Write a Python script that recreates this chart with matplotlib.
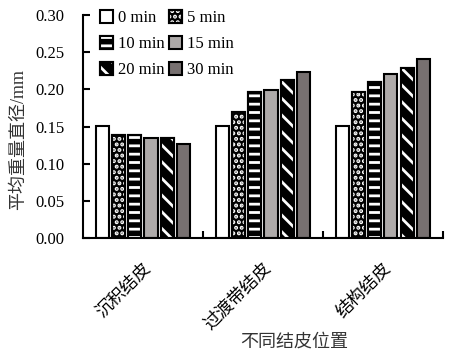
import numpy as np
import matplotlib
matplotlib.use("Agg")
import matplotlib.pyplot as plt
from matplotlib.patches import Patch
from matplotlib.legend_handler import HandlerTuple
from matplotlib.transforms import ScaledTranslation

plt.rcParams["font.family"] = ["Liberation Serif", "Noto Sans CJK SC"]
plt.rcParams["hatch.linewidth"] = 2.0

positions = ["沉积结皮", "过渡带结皮", "结构结皮"]
series = ["0 min", "5 min", "10 min", "15 min", "20 min", "30 min"]
values = [
    [0.151, 0.151, 0.151],
    [0.139, 0.169, 0.196],
    [0.139, 0.196, 0.210],
    [0.134, 0.199, 0.220],
    [0.134, 0.212, 0.229],
    [0.127, 0.223, 0.241],
]

# fill colour, white hatch on top (None = plain)
styles = [
    ("white", None),
    ("black", "..."),
    ("black", "--"),
    ("#aeaaa9", None),
    ("black", "\\\\"),
    ("#777070", None),
]

fig = plt.figure(figsize=(4.5, 3.57), dpi=100)
ax = fig.add_axes([0.184, 0.333, 0.80, 0.625])

x = np.arange(len(positions))
width = 0.11
step = 0.135
handles = []
for i, (name, vals) in enumerate(zip(series, values)):
    fc, hatch = styles[i]
    xs = x + (i - 2.5) * step
    ax.bar(xs, vals, width=width, color=fc, edgecolor="black", linewidth=1.5, zorder=2)
    base = Patch(facecolor=fc, edgecolor="black", linewidth=1.5)
    if hatch:
        ax.bar(xs, vals, width=width, fill=False, edgecolor="white", hatch=hatch,
               linewidth=0, zorder=3)
        ax.bar(xs, vals, width=width, fill=False, edgecolor="black", linewidth=1.5, zorder=4)
        over = Patch(fill=False, edgecolor="white", hatch=hatch, linewidth=0)
        rim = Patch(fill=False, edgecolor="black", linewidth=1.5)
        handles.append((base, over, rim))
    else:
        handles.append(base)

ax.set_xlim(-0.5, 2.5)
ax.set_ylim(0, 0.30)
ax.set_yticks(np.arange(0, 0.301, 0.05))
ax.set_yticklabels([f"{v:.2f}" for v in np.arange(0, 0.301, 0.05)], fontsize=12)
ax.set_xticks(x)
ax.set_xticklabels(positions, rotation=45, ha="right", rotation_mode="anchor", fontsize=12.5)
shift = ScaledTranslation(-24 / 100, 0, fig.dpi_scale_trans)
for lab in ax.get_xticklabels():
    lab.set_transform(lab.get_transform() + shift)
ax.set_xticks([0.5, 1.5, 2.5], minor=True)
ax.tick_params(axis="x", which="major", length=0, pad=16)
ax.tick_params(axis="x", which="minor", direction="in", length=5, width=1.5)
ax.tick_params(axis="y", direction="in", length=5, width=1.5, pad=13)
for side in ["top", "right"]:
    ax.spines[side].set_visible(False)
for side in ["left", "bottom"]:
    ax.spines[side].set_linewidth(1.5)

ax.set_ylabel("平均重量直径/mm", fontsize=13, color="#333333")
ax.yaxis.set_label_coords(-0.156, 0.44)
ax.set_xlabel("不同结皮位置", fontsize=13, color="#333333")
ax.xaxis.set_label_coords(0.586, -0.426)

order = [0, 2, 4, 1, 3, 5]
ax.legend([handles[k] for k in order], [series[k] for k in order], ncol=2,
          handler_map={tuple: HandlerTuple(ndivide=1, pad=0)},
          loc="upper left", bbox_to_anchor=(0.2, 1.0), bbox_transform=fig.transFigure,
          frameon=False, fontsize=12, handlelength=0.8, handleheight=0.8,
          handletextpad=0.3, labelspacing=0.6, columnspacing=0.25, borderaxespad=0.2)

fig.savefig("out.png", dpi=100)
